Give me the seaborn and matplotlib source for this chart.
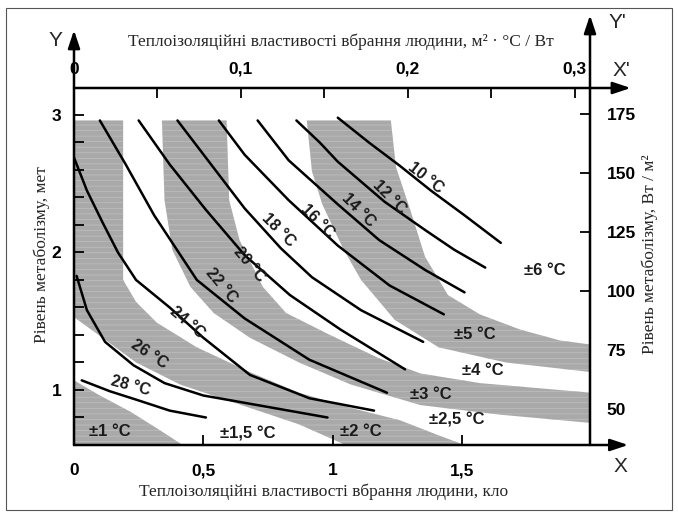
import numpy as np
import pandas as pd
import matplotlib
matplotlib.use("Agg")
import matplotlib.pyplot as plt
import seaborn as sns
from matplotlib.patches import Rectangle
from matplotlib.ticker import FixedLocator, MultipleLocator

# isotherms (clo, met)
t10_clo = [1.02, 1.14, 1.26, 1.38, 1.51, 1.65]
t10_met = [2.98, 2.80, 2.63, 2.45, 2.27, 2.07]
t12_clo = [0.86, 0.95, 1.02, 1.20, 1.36, 1.47, 1.59]
t12_met = [2.96, 2.80, 2.66, 2.37, 2.16, 2.02, 1.89]
t14_clo = [0.71, 0.83, 1.02, 1.18, 1.36, 1.51]
t14_met = [2.96, 2.67, 2.35, 2.09, 1.87, 1.71]
t16_clo = [0.56, 0.66, 0.83, 1.02, 1.22, 1.43]
t16_met = [2.96, 2.71, 2.38, 2.05, 1.76, 1.55]
t18_clo = [0.40, 0.53, 0.66, 0.80, 0.92, 1.11, 1.35]
t18_met = [2.96, 2.64, 2.32, 2.03, 1.82, 1.58, 1.35]
t20_clo = [0.25, 0.37, 0.51, 0.66, 0.835, 1.03, 1.28]
t20_met = [2.96, 2.64, 2.31, 1.98, 1.69, 1.44, 1.15]
t22_clo = [0.10, 0.20, 0.31, 0.475, 0.66, 0.91, 1.21]
t22_met = [2.96, 2.64, 2.27, 1.80, 1.52, 1.22, 0.98]
t24_clo = [0.0, 0.05, 0.11, 0.17, 0.24, 0.37, 0.50, 0.68, 0.91, 1.16]
t24_met = [2.69, 2.45, 2.22, 2.00, 1.80, 1.60, 1.38, 1.11, 0.94, 0.85]
t26_clo = [0.01, 0.05, 0.12, 0.23, 0.35, 0.50, 0.68, 0.98]
t26_met = [1.83, 1.58, 1.35, 1.18, 1.05, 0.96, 0.90, 0.80]
t28_clo = [0.03, 0.14, 0.24, 0.37, 0.51]
t28_met = [1.07, 0.99, 0.93, 0.85, 0.80]

# shaded tolerance zones: outer and inner edges
b1_clo = [0.0, 0.10, 0.22, 0.33, 0.42, 0.0]
b1_met = [1.07, 0.96, 0.84, 0.71, 0.60, 0.60]
b2_out_clo = [0.19, 0.19, 0.24, 0.32, 0.475, 0.68, 0.87, 1.07, 1.26, 1.41, 1.51]
b2_out_met = [2.96, 1.80, 1.64, 1.49, 1.31, 1.13, 0.98, 0.87, 0.78, 0.67, 0.60]
b2_in_clo = [0.0, 0.0, 0.11, 0.24, 0.41, 0.68, 0.87, 1.05]
b2_in_met = [2.96, 1.53, 1.38, 1.20, 1.04, 0.87, 0.75, 0.60]
b3_out_clo = [0.59, 0.60, 0.64, 0.73, 0.82, 0.99, 1.18, 1.34, 1.57, 2.0]
b3_out_met = [2.96, 2.38, 2.09, 1.75, 1.56, 1.40, 1.23, 1.12, 1.05, 0.98]
b3_in_clo = [0.34, 0.35, 0.38, 0.45, 0.54, 0.68, 0.87, 1.07, 1.34, 1.65, 2.0]
b3_in_met = [2.96, 2.38, 2.02, 1.75, 1.56, 1.38, 1.20, 1.04, 0.89, 0.82, 0.76]
b5_out_clo = [1.225, 1.245, 1.30, 1.357, 1.446, 1.569, 1.724, 1.879, 2.0]
b5_out_met = [2.96, 2.62, 2.31, 1.97, 1.69, 1.55, 1.44, 1.36, 1.33]
b5_in_clo = [0.90, 0.92, 0.96, 1.04, 1.11, 1.24, 1.41, 1.67, 2.0]
b5_in_met = [2.96, 2.59, 2.35, 2.03, 1.80, 1.51, 1.31, 1.20, 1.13]

# labels
curve_names = ["10 °C", "12 °C", "14 °C", "16 °C", "18 °C", "20 °C", "22 °C", "24 °C", "26 °C", "28 °C"]
curve_lab_clo = [1.36, 1.22, 1.10, 0.94, 0.79, 0.68, 0.57, 0.44, 0.29, 0.22]
curve_lab_met = [2.54, 2.40, 2.31, 2.23, 2.16, 1.91, 1.76, 1.49, 1.26, 1.03]
curve_lab_rot = [-38, -45, -45, -45, -45, -50, -50, -40, -33, -15]
zone_names = ["±1 °C", "±1,5 °C", "±2 °C", "±2,5 °C", "±3 °C", "±4 °C", "±5 °C", "±6 °C"]
zone_clo = [0.14, 0.67, 1.11, 1.48, 1.38, 1.58, 1.55, 1.82]
zone_met = [0.70, 0.68, 0.70, 0.78, 0.97, 1.14, 1.40, 1.87]

clo_ticks = [0, 0.5, 1, 1.5]
clo_labels = ["0", "0,5", "1", "1,5"]
met_ticks = [1, 2, 3]
si_ticks = [0, 0.1, 0.2, 0.3]
si_labels = ["0", "0,1", "0,2", "0,3"]
w_ticks = [50, 75, 100, 125, 150, 175]

sns.set_theme(style="white")
plt.rcParams["font.family"] = ["Liberation Sans", "DejaVu Sans"]
plt.rcParams["hatch.linewidth"] = 0.5

W, H = 678, 516
fig = plt.figure(figsize=(W / 100, H / 100), dpi=100)
ax = fig.add_axes([74 / W, 71 / H, 516 / W, 357 / H])
ax.set_xlim(0, 1.995)
ax.set_ylim(0.6, 3.196)
ax.set_axisbelow(False)

# scanned-looking grey: grey fill with faint light streaks
shade = dict(facecolor="#a9a9a9", edgecolor="#c0c0c0", hatch="---", lw=0, zorder=1)
ax.fill(b1_clo, b1_met, **shade)
for oc, om, ic, im in [(b2_out_clo, b2_out_met, b2_in_clo, b2_in_met),
                       (b3_out_clo, b3_out_met, b3_in_clo, b3_in_met),
                       (b5_out_clo, b5_out_met, b5_in_clo, b5_in_met)]:
    ax.fill(oc + ic[::-1], om + im[::-1], **shade)

curves = [(10, t10_clo, t10_met), (12, t12_clo, t12_met), (14, t14_clo, t14_met),
          (16, t16_clo, t16_met), (18, t18_clo, t18_met), (20, t20_clo, t20_met),
          (22, t22_clo, t22_met), (24, t24_clo, t24_met), (26, t26_clo, t26_met),
          (28, t28_clo, t28_met)]
df = pd.concat([pd.DataFrame({"t": t, "clo": c, "met": m}) for t, c, m in curves])
sns.lineplot(data=df, x="clo", y="met", units="t", estimator=None, sort=False,
             color="black", lw=1.8, ax=ax, legend=False, zorder=3)

bold = dict(fontweight="bold", color="#1a1a1a")
for name, x, y, r in zip(curve_names, curve_lab_clo, curve_lab_met, curve_lab_rot):
    ax.text(x, y, name, rotation=r, rotation_mode="anchor", ha="center", va="center",
            fontsize=11.5, zorder=4, **bold)
for name, x, y in zip(zone_names, zone_clo, zone_met):
    ax.text(x, y, name, ha="center", va="center", fontsize=12, zorder=4, **bold)

for s in ax.spines.values():
    s.set_visible(False)
ax.set_xlabel("")
ax.set_ylabel("")
ax.set_xticks(clo_ticks, clo_labels)
ax.set_yticks(met_ticks, [str(v) for v in met_ticks])
ax.yaxis.set_minor_locator(MultipleLocator(0.2))
ax.tick_params(axis="x", direction="in", bottom=True, length=7, width=1.3, pad=13,
               labelsize=12.5, colors="black")
ax.tick_params(axis="y", which="both", direction="in", left=True, length=7, width=1.3,
               pad=9, labelsize=12.5, colors="black")
for lab in ax.get_xticklabels() + ax.get_yticklabels():
    lab.set_fontweight("bold")

top = ax.secondary_xaxis("top", functions=(lambda x: x * 0.155, lambda x: x / 0.155))
top.set_xticks(si_ticks, si_labels)
top.xaxis.set_minor_locator(FixedLocator([0.05, 0.15, 0.25]))
top.tick_params(which="both", direction="in", top=True, length=7, width=1.3, pad=8,
                labelsize=12.5, colors="black")
right = ax.secondary_yaxis("right", functions=(lambda m: m * 58.2, lambda w: w / 58.2))
right.set_yticks(w_ticks, [str(v) for v in w_ticks])
right.tick_params(direction="in", right=True, length=7, width=1.3, pad=12,
                  labelsize=12.5, colors="black")
for sec in (top, right):
    for s in sec.spines.values():
        s.set_visible(False)
for lab in top.get_xticklabels() + right.get_yticklabels():
    lab.set_fontweight("bold")

# axes drawn as arrows
arrow = dict(arrowstyle="-|>,head_length=0.9,head_width=0.3", lw=1.8, color="black",
             shrinkA=0, shrinkB=0)
ax.annotate("", xy=(0, 1.162), xytext=(0, 0), xycoords="axes fraction", arrowprops=arrow)
ax.annotate("", xy=(1, 1.204), xytext=(1, 0), xycoords="axes fraction", arrowprops=arrow)
ax.annotate("", xy=(1.074, 0), xytext=(0, 0), xycoords="axes fraction", arrowprops=arrow)
ax.annotate("", xy=(1.079, 1), xytext=(0, 1), xycoords="axes fraction", arrowprops=arrow)

fig.text(55 / W, 1 - 40 / H, "Y", fontsize=15, ha="center", va="center")
fig.text(617 / W, 1 - 23 / H, "Y'", fontsize=15, ha="center", va="center")
fig.text(621 / W, 1 - 71 / H, "X'", fontsize=15, ha="center", va="center")
fig.text(620 / W, 1 - 466 / H, "X", fontsize=15, ha="center", va="center")

serif = ["Liberation Serif", "DejaVu Serif"]
fig.text(341 / W, 1 - 42 / H, "Теплоізоляційні властивості вбрання людини, м² · °C / Вт",
         family=serif, fontsize=12.5, ha="center", va="center")
fig.text(324 / W, 1 - 492 / H, "Теплоізоляційні властивості вбрання людини, кло",
         family=serif, fontsize=12.5, ha="center", va="center")
fig.text(42 / W, 1 - 255 / H, "Рівень метаболізму, мет", family=serif, fontsize=12.5,
         rotation=90, ha="center", va="center")
fig.text(650 / W, 1 - 254 / H, "Рівень метаболізму, Вт / м²", family=serif, fontsize=12.5,
         rotation=90, ha="center", va="center")

fig.patches.append(Rectangle((6 / W, 6 / H), 666 / W, 502 / H, transform=fig.transFigure,
                             fill=False, lw=0.8, ec="#555555"))

fig.savefig("out.png", dpi=100)
